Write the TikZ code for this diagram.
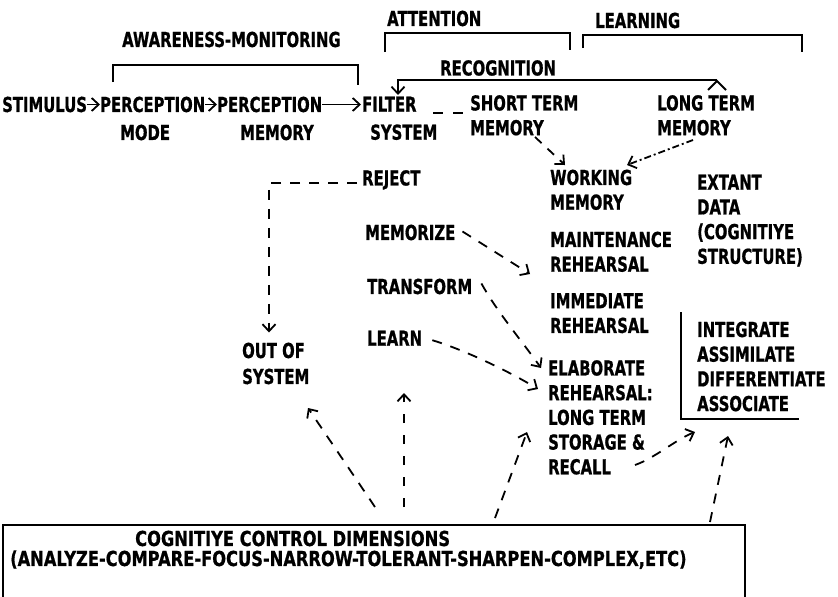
\documentclass[tikz,border=0pt]{standalone}
\usepackage{fontspec}
\newfontfamily\lett{DejaVu Sans}[FakeStretch=0.72, FakeBold=0.8]
\newfontfamily\lettwide{DejaVu Sans}[FakeStretch=0.79, FakeBold=0.8]
\usetikzlibrary{arrows.meta,calc}
\tikzset{
  lab/.style={font=\lett\bfseries\fontsize{20.6}{24.7}\selectfont, inner sep=0pt, align=left, anchor=north west},
  tipend/.style={-{Straight Barb[length=7pt,width=13pt,line width=1.8pt]}},
  tipstart/.style={{Straight Barb[length=7pt,width=13pt,line width=1.8pt]}-},
  con/.style={line width=1.8pt, dash pattern=on 10pt off 9pt, tipend},
  dashdot/.style={line width=1.8pt, dash pattern=on 7pt off 3pt on 2pt off 3pt, tipend},
  solidarr/.style={line width=1.6pt, tipend},
  brk/.style={line width=1.8pt}
}
\begin{document}
\begin{tikzpicture}[x=1pt,y=-1pt]
\useasboundingbox (0,0) rectangle (838,597);
% text nodes
\node[lab] (aware) at (122,31.5) {AWARENESS-MONITORING};
\node[lab] (attn) at (387,10.5) {ATTENTION};
\node[lab] (learning) at (595,12.5) {LEARNING};
\node[lab] (recog) at (440,60) {RECOGNITION};
\node[lab] (stim) at (2,96.5) {STIMULUS};
\node[lab, font=\lett\bfseries\fontsize{20.6}{28}\selectfont] (pmode) at (100,96.5) {PERCEPTION\\\hspace*{20pt}MODE};
\node[lab, font=\lett\bfseries\fontsize{20.6}{28}\selectfont] (pmem) at (217,96.5) {PERCEPTION\\\hspace*{23pt}MEMORY};
\node[lab, font=\lett\bfseries\fontsize{20.6}{28}\selectfont] (filter) at (362,96.5) {FILTER\\\hspace*{8pt}SYSTEM};
\node[lab] (stm) at (470,95) {SHORT TERM\\MEMORY};
\node[lab] (ltm) at (657,95) {LONG TERM\\MEMORY};
\node[lab] (reject) at (362,170) {REJECT};
\node[lab] (work) at (550,169.5) {WORKING\\MEMORY};
\node[lab] (extant) at (697,174.5) {EXTANT\\DATA\\(COGNITIYE\\STRUCTURE)};
\node[lab] (memorize) at (365,224.5) {MEMORIZE};
\node[lab] (maint) at (550,231.5) {MAINTENANCE\\REHEARSAL};
\node[lab] (transform) at (367,278.5) {TRANSFORM};
\node[lab] (immed) at (550,293) {IMMEDIATE\\REHEARSAL};
\node[lab] (learn) at (367,330.5) {LEARN};
\node[lab] (integ) at (697,321.5) {INTEGRATE\\ASSIMILATE\\DIFFERENTIATE\\ASSOCIATE};
\node[lab, font=\lett\bfseries\fontsize{20.6}{26}\selectfont] (out) at (242,342.5) {OUT OF\\SYSTEM};
\node[lab] (elab) at (548,360) {ELABORATE\\REHEARSAL:\\LONG TERM\\STORAGE \&\\RECALL};
% bottom box
\node[draw, line width=1.8pt, anchor=north west, minimum width=742pt, minimum height=100pt, inner sep=0pt] (ctrl) at (2,524) {};
\node[lab, font=\lettwide\bfseries\fontsize{20.6}{20}\selectfont] (ctrltext) at (10,530.5) {\hspace*{125pt}COGNITIYE CONTROL DIMENSIONS\\(ANALYZE-COMPARE-FOCUS-NARROW-TOLERANT-SHARPEN-COMPLEX,ETC)};
% brackets
\draw[brk] (113,82) -- (113,65) -- (358,65) -- (358,85);
\draw[brk] (385,52) -- (385,33) -- (570,33) -- (570,50);
\draw[brk] (583,48) -- (583,35) -- (802,35) -- (802,52);
\draw[brk] ($(integ.north west)+(-16,-9.5)$) -- ($(integ.north west)+(-16,97.5)$) -- ($(integ.north west)+(102,97.5)$);
% main row arrows
\draw[solidarr] (stim.east) -- (stim.east -| pmode.west);
\draw[solidarr] (stim.east -| pmode.east) -- (stim.east -| pmem.west);
\draw[solidarr] (stim.east -| pmem.east) -- ([xshift=-1pt]stim.east -| filter.west);
\draw[line width=1.8pt, dash pattern=on 10pt off 10pt] ($(filter.north west)+(71,16.5)$) -- ($(stm.north west)+(-7,18)$);
% recognition
\draw[brk, tipstart] ($(filter.north west)+(36,-1.5)$) |- ($(ltm.north west)+(60,-15)$);
\draw[brk] ($(ltm.north west)+(51,-5)$) -- ($(ltm.north west)+(60,-14)$) -- ($(ltm.north west)+(69,-5)$);
% memory arrows
\draw[con, dash pattern=on 9pt off 8pt] ($(stm.north west)+(65,42)$) -- ($(work.north west)+(15,-4.5)$);
\draw[dashdot] ($(ltm.north west)+(36,45)$) -- ($(work.north west)+(77,-4.5)$);
% reject
\draw[con] ($(reject.west)+(-5,3)$) -| ($(out.north west)+(27,-10)$);
% processes
\draw[con] ($(memorize.east)+(7,-1)$) -- ($(maint.north west)+(-20,42.5)$);
\draw[con] ($(transform.east)+(9,-3)$) .. controls (497,312) and (525,345) .. ($(elab.north west)+(-7,8)$);
\draw[con] ($(learn.east)+(10,2)$) .. controls (465,350) and (510,372) .. ($(elab.north west)+(-10,29)$);
\draw[con] ($(elab.north west)+(87,105)$) .. controls (655,458) and (675,440) .. ($(integ.north west)+(-2,110.5)$);
% control arrows
\coordinate (up) at ($(ctrl.north west)+(402,-131)$);
\draw[con] ($(ctrl.north west)+(373,-17)$) -- ($(out.north west)+(66,65.5)$);
\draw[con, dash pattern=on 9pt off 12pt] ($(ctrl.north west)+(402,-17)$) -- (up);
\draw[con] ($(ctrl.north west)+(493,-6)$) -- ($(elab.north west)+(-21,72)$);
\draw[con] ($(ctrl.north west)+(708,-2)$) -- ($(integ.north west)+(31,114.5)$);
\end{tikzpicture}
\end{document}
